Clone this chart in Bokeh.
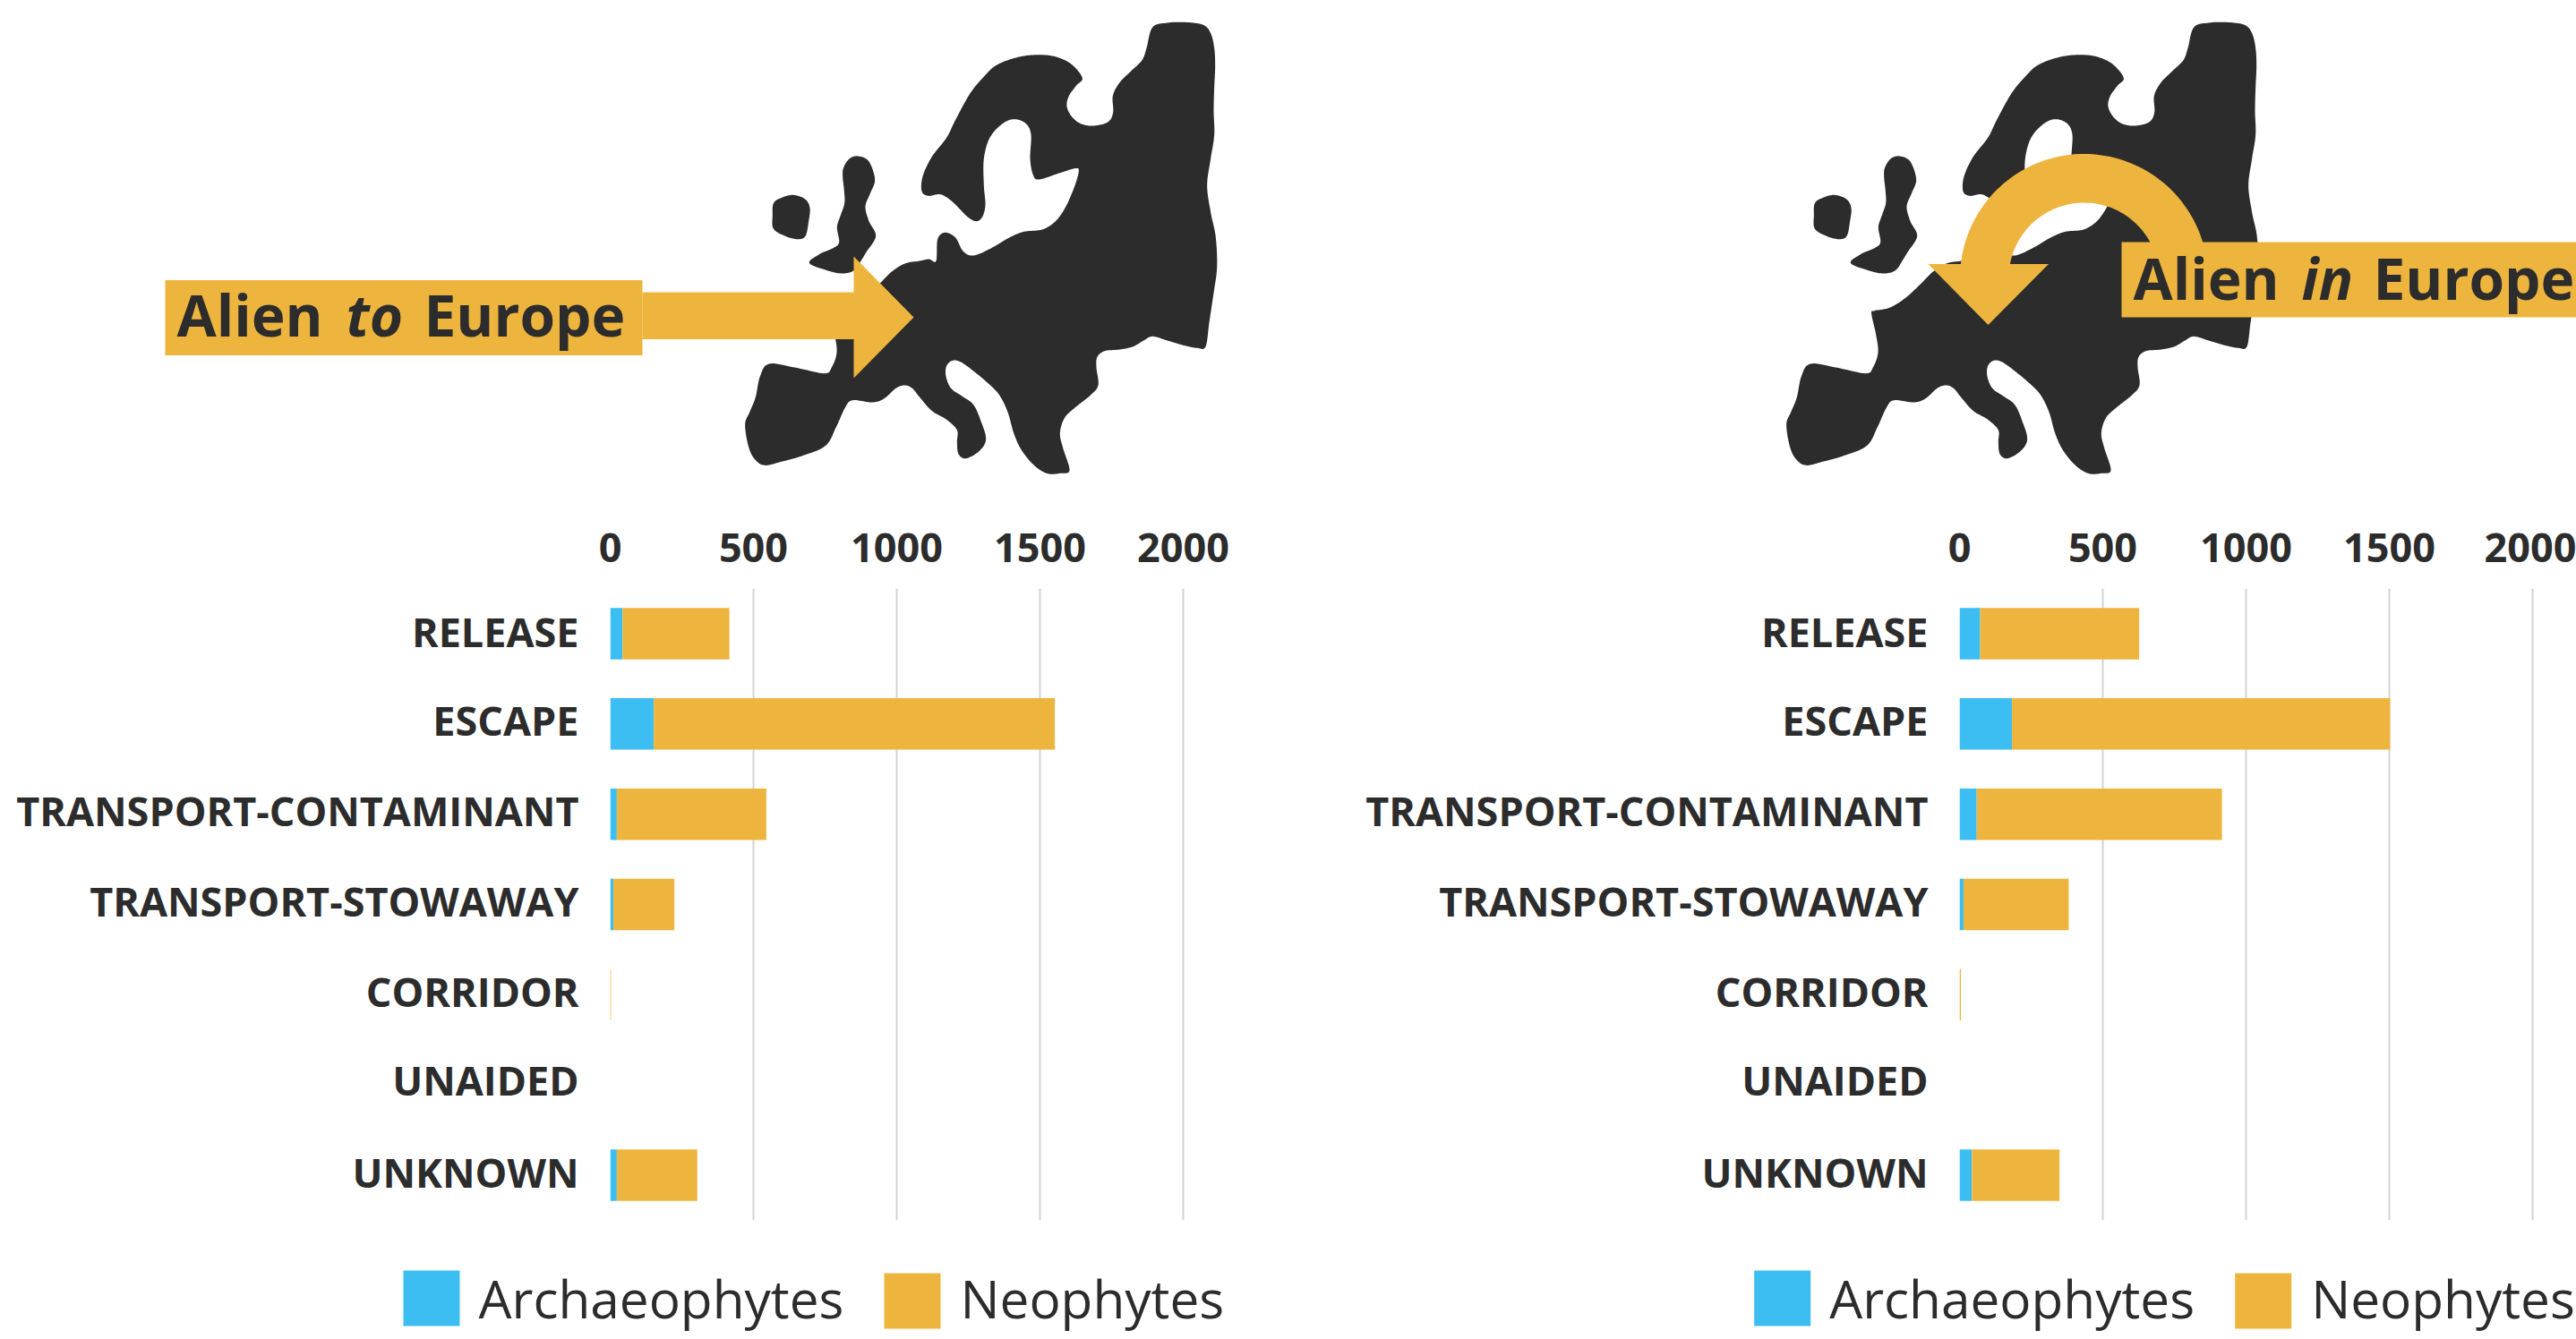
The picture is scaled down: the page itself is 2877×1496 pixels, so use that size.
import numpy as np
from bokeh.core.properties import value
from bokeh.embed import file_html
from bokeh.layouts import column, row
from bokeh.models import FixedTicker, Range1d
from bokeh.plotting import figure
from bokeh.resources import INLINE

categories = ["RELEASE", "ESCAPE", "TRANSPORT-CONTAMINANT", "TRANSPORT-STOWAWAY", "CORRIDOR", "UNAIDED", "UNKNOWN"]
arch_to = [43, 152, 23, 11, 0, 0, 23]
neo_to = [373, 1400, 522, 213, 3, 0, 281]
arch_in = [72, 183, 60, 14, 0, 0, 43]
neo_in = [555, 1320, 856, 367, 5, 0, 306]
tick_values = [0, 500, 1000, 1500, 2000]
series_names = ["Archaeophytes", "Neophytes"]
label_rows = [-0.02, 0.96, 1.96, 2.96, 3.96, 4.94, 5.96]

GOLD = "#EEB53E"
BLUE = "#3CBEF2"
DARK = "#2C2C2C"
GRID = "#D3D3D3"
FONT = "Open Sans"


def crop(ox, oy, pts):
    return [(ox + x / 3, oy + y / 3) for x, y in pts]


def smooth(points, n=10):
    p = np.array(points, dtype=float)
    out = []
    m = len(p)
    for i in range(m):
        p0, p1, p2, p3 = p[(i - 1) % m], p[i], p[(i + 1) % m], p[(i + 2) % m]
        for t in np.linspace(0, 1, n, endpoint=False):
            out.append(0.5 * ((2 * p1) + (-p0 + p2) * t + (2 * p0 - 5 * p1 + 4 * p2 - p3) * t**2
                              + (-p0 + 3 * p1 - 3 * p2 + p3) * t**3))
    out = np.array(out)
    return out[:, 0], out[:, 1]


mainland = (
    crop(1090, 10, [(590, 60), (640, 45), (700, 43), (760, 52), (785, 80), (797, 130), (800, 190), (797, 260),
                    (795, 340), (797, 420), (785, 500), (773, 590), (785, 680), (800, 750)])
    + crop(1090, 270, [(806, 40), (805, 100), (795, 170), (780, 270), (768, 350), (740, 355), (690, 345), (640, 330),
                       (590, 316), (560, 330), (525, 350), (480, 360), (430, 365), (405, 385), (402, 420), (408, 480),
                       (380, 515), (330, 555), (295, 590), (280, 640), (290, 690), (312, 765), (280, 775), (235, 775),
                       (190, 745), (150, 695), (125, 640), (105, 570), (75, 510), (30, 465)])
    + crop(830, 270, [(780, 440), (730, 403), (700, 397), (680, 415), (678, 450), (695, 490), (730, 515), (770, 545),
                      (795, 600), (812, 660), (790, 700), (745, 725), (720, 710), (715, 670), (715, 630), (680, 595),
                      (630, 565), (590, 520), (565, 490), (540, 480), (510, 490), (470, 525), (430, 537), (365, 530),
                      (340, 555), (310, 620), (275, 682), (200, 715), (130, 735), (70, 748), (35, 725), (15, 680),
                      (5, 610), (20, 570), (40, 520), (55, 450), (85, 408), (170, 420), (270, 440), (295, 420),
                      (312, 370), (305, 310), (290, 240), (300, 230), (350, 220), (400, 190), (450, 145), (495, 100),
                      (540, 72), (590, 63)])
    + [(1037, 289), (1045, 291)]
    + crop(830, 10, [(650, 770), (675, 748), (710, 765), (735, 810), (770, 825)])
    + crop(1090, 10, [(50, 800), (110, 765), (160, 745), (220, 738), (265, 710), (300, 660), (330, 590), (343, 540),
                      (330, 533), (280, 548), (210, 570), (190, 555), (180, 500), (183, 420), (165, 382), (125, 368),
                      (85, 385), (45, 430), (25, 500), (25, 590), (30, 655), (20, 695), (0, 710)])
    + crop(830, 10, [(750, 695), (700, 645), (660, 620), (620, 625), (597, 610), (600, 560), (630, 495), (680, 430),
                     (710, 370), (760, 280), (810, 220)])
    + crop(1090, 10, [(70, 185), (140, 160), (210, 152), (270, 160), (320, 185), (355, 230),
                      (335, 255), (310, 290), (303, 325), (320, 360), (350, 383), (390, 390), (440, 378), (458, 345),
                      (457, 290), (480, 245), (520, 205), (555, 170), (570, 130)])
)
ireland = crop(830, 10, [(100, 650), (125, 632), (165, 622), (205, 635), (222, 665), (218, 710), (207, 760),
                         (180, 770), (140, 760), (100, 735), (97, 690)])
britain = (
    crop(830, 10, [(335, 530), (355, 500), (385, 492), (420, 510), (440, 570), (425, 615), (408, 660), (420, 710),
                   (443, 760)])
    + crop(830, 270, [(410, 35), (395, 60), (370, 95), (330, 105), (280, 95), (220, 70), (255, 40), (300, 20)])
    + crop(830, 10, [(320, 780), (313, 730), (325, 690), (338, 650), (337, 610), (332, 560)])
)

TOP_H = 568
CHART_H = 802
STRIP_H = 126
TOTAL_W = 2877
top = figure(width=TOTAL_W, height=TOP_H, x_range=Range1d(0, TOTAL_W), y_range=Range1d(TOP_H, 0),
             output_backend="svg", toolbar_location=None, min_border=0, outline_line_color=None,
             x_axis_type=None, y_axis_type=None)
top.grid.visible = False

MAP_SHIFT = 1163
for shape in (mainland, ireland, britain):
    xs, ys = smooth(shape)
    for shift in (0, MAP_SHIFT):
        top.patch(xs + shift, ys, fill_color=DARK, line_color=None)

# arrow "to"
top.patch([717, 953, 953, 1020, 953, 953, 717], [326, 326, 286, 354, 422, 378.5, 378.5],
          fill_color=GOLD, line_color=None)
top.quad(left=184, right=717, top=312.5, bottom=396.5, fill_color=GOLD, line_color=None)

# arrow "in"
cx, cy, ro, ri = 2327, 310, 138.5, 84
outer = np.linspace(np.pi - np.arcsin(15 / ro), np.arcsin(30 / ro), 80)
inner = np.linspace(np.arcsin(30 / ri), np.pi - np.arcsin(15 / ri), 80)
top.patch(np.r_[cx + ro * np.cos(outer), cx + ri * np.cos(inner)],
          np.r_[cy - ro * np.sin(outer), cy - ri * np.sin(inner)], fill_color=GOLD, line_color=None)
top.patch([2153, 2287.5, 2220], [294.5, 294.5, 362.5], fill_color=GOLD, line_color=None)
top.quad(left=2369, right=TOTAL_W, top=270, bottom=354, fill_color=GOLD, line_color=None)

for x, y, txt, style in [(197, 351, "Alien", "bold"), (386, 351, "to", "bold italic"), (473, 351, "Europe", "bold"),
                         (2382, 310, "Alien", "bold"), (2570, 310, "in", "bold italic"), (2650, 310, "Europe", "bold")]:
    top.text([x], [y], text=[txt], text_font=value(FONT), text_font_style=style, text_font_size="64px",
             text_color=DARK, text_baseline="middle", text_align="left")


def chart(arch, neo, width, border_left, border_right):
    p = figure(width=width, height=CHART_H, x_range=Range1d(0, 2050),
               y_range=Range1d(6.5, -0.5), x_axis_location="above",
               output_backend="svg", toolbar_location=None, outline_line_color=None,
               min_border_left=border_left, min_border_right=border_right, min_border_top=89, min_border_bottom=7)
    src = dict(row=list(range(len(categories))), Archaeophytes=arch, Neophytes=neo)
    p.hbar_stack(series_names, y="row", height=0.57, color=[BLUE, GOLD], line_color=None, source=src)
    p.ygrid.visible = False
    p.xgrid.grid_line_color = GRID
    p.xgrid.grid_line_width = 2
    p.xaxis.ticker = FixedTicker(ticks=tick_values)
    p.yaxis.ticker = FixedTicker(ticks=label_rows)
    p.yaxis.major_label_overrides = dict(zip(label_rows, categories))
    for ax in (p.xaxis[0], p.yaxis[0]):
        ax.axis_line_color = None
        ax.major_tick_line_color = None
        ax.minor_tick_line_color = None
        ax.major_label_text_font = FONT
        ax.major_label_text_font_style = "bold"
        ax.major_label_text_font_size = "45px"
        ax.major_label_text_color = DARK
    p.xaxis.major_label_standoff = 24
    p.yaxis.major_label_standoff = 29
    return p


left = chart(arch_to, neo_to, 1440, 681, 103)
right = chart(arch_in, neo_in, 1437, 748, 33)

# legend strip
y0 = TOP_H + CHART_H
strip = figure(width=TOTAL_W, height=STRIP_H, x_range=Range1d(0, TOTAL_W), y_range=Range1d(y0 + STRIP_H, y0),
               output_backend="svg", toolbar_location=None, min_border=0, outline_line_color=None,
               x_axis_type=None, y_axis_type=None)
strip.grid.visible = False
for shift in (0, 1508.7):
    for name, col, sx, tx, sy in zip(series_names, (BLUE, GOLD), (450, 987), (534, 1072), (1419, 1422)):
        strip.quad(left=sx + shift, right=sx + 63 + shift, top=sy, bottom=sy + 62, fill_color=col, line_color=None)
        strip.text([tx + shift], [1449], text=[name], text_font=value(FONT), text_font_size="58.5px",
                   text_color=DARK, text_baseline="middle", text_align="left")

page = column(top, row(left, right, spacing=0), strip, spacing=0)
open("out.html", "w").write(file_html(page, INLINE))
